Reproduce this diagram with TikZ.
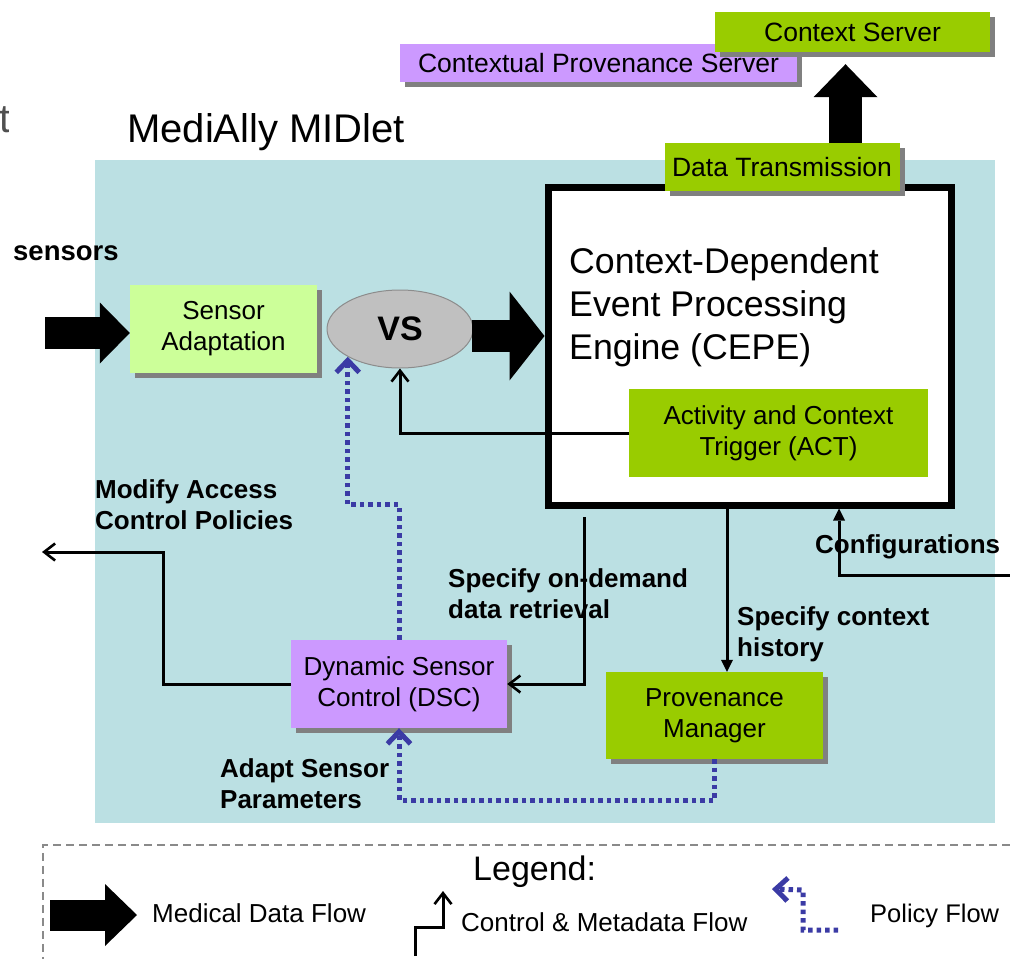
\documentclass[tikz,border=0pt]{standalone}
\usepackage{fontspec}
\setmainfont{Liberation Sans}
\usetikzlibrary{arrows.meta,shadows,calc,shapes.geometric}

\definecolor{bgcyan}{HTML}{BBE0E3}
\definecolor{dgreen}{HTML}{99CC00}
\definecolor{lgreen}{HTML}{CCFF99}
\definecolor{lilac}{HTML}{CC99FF}
\definecolor{shgray}{HTML}{808080}
\definecolor{vsgray}{HTML}{C0C0C0}
\definecolor{vsedge}{HTML}{8C8C8C}
\definecolor{polblue}{HTML}{3B3BA5}
\definecolor{legendgray}{HTML}{8A8A8A}
\definecolor{fraggray}{HTML}{505050}

\newcommand\setfs[2]{\fontsize{#1}{#2}\selectfont}

\tikzset{
  sh/.style={drop shadow={shadow xshift=5pt,shadow yshift=-5pt,fill=shgray,opacity=1}},
  boxbase/.style={inner sep=0pt, align=center, font=\setfs{26}{31}},
  gbox/.style={boxbase, fill=dgreen},
  lgbox/.style={boxbase, fill=lgreen},
  pbox/.style={boxbase, fill=lilac},
  lbl/.style={inner sep=0pt, align=left, font=\bfseries\setfs{26}{31}},
  plain/.style={inner sep=0pt, font=\setfs{26}{31}},
  ctl/.style={draw=black, line width=3pt},
  opentip/.style={-{Straight Barb[length=11pt,width=17pt,line width=2.6pt]}},
  filltip/.style={-{Triangle[length=12pt,width=12pt,line width=0pt]}},
  pol/.style={draw=polblue, line width=5pt, dash pattern=on 4.5pt off 4pt,
    -{Straight Barb[length=12pt,width=23pt,line width=5pt]}},
  bigflow/.style={draw=black, line width=#1},
}

\begin{document}
\begin{tikzpicture}[x=1pt,y=-1pt]
\useasboundingbox (0,0) rectangle (1010,959);

% clipped letter at the left margin
\begin{scope}
  \clip (0,90) rectangle (8,140);
  \node[anchor=base west, inner sep=0pt, font=\setfs{40}{48}, text=fraggray] (frag) at (-1,132) {t};
\end{scope}

% MIDlet area
\node[fill=bgcyan, minimum width=900pt, minimum height=663pt, inner sep=0pt, anchor=north west] (midlet) at (95,160) {};
\node[anchor=base west, inner sep=0pt, font=\setfs{40}{48}] (title) at (127,142) {MediAlly MIDlet};

% servers
\node[pbox, sh, minimum width=397pt, minimum height=38pt, font=\setfs{26.5}{32}] (CPS) at (598.5,63) {Contextual Provenance Server};
\node[gbox, sh, minimum width=275pt, minimum height=40pt, font=\setfs{26.5}{32}] (CS) at (852.5,32) {Context Server};

% event processing engine
\node[draw=black, line width=7pt, fill=white, minimum width=403pt, minimum height=318pt, inner sep=0pt] (CEPE) at (749.5,346) {};
\node[anchor=north west, inner sep=0pt, align=left, font=\setfs{35.7}{43}] (cepetxt) at (569,247) {Context-Dependent\\Event Processing\\Engine (CEPE)};

% upload to the context server
\node[gbox, sh, minimum width=235pt, minimum height=48pt, font=\setfs{26.5}{32}] (DT) at (782,167) {Data Transmission};
\coordinate (cstip) at ($(CS.south)+(-7,12)$);
\draw[bigflow=33pt, -{Triangle[length=33pt,width=64pt,line width=0pt]}] (DT.north -| cstip) -- (cstip);

\node[gbox, minimum width=299pt, minimum height=88pt] (ACT) at (778.5,433) {Activity and Context\\Trigger (ACT)};
\node[lgbox, sh, minimum width=187pt, minimum height=88pt] (SA) at (223.5,329) {Sensor\\Adaptation};
\node[ellipse, fill=vsgray, draw=vsedge, line width=1pt, minimum width=146pt, minimum height=78pt, inner sep=0pt, font=\bfseries\setfs{34}{40}] (VS) at (400,329) {VS};
\node[pbox, sh, minimum width=216pt, minimum height=88pt] (DSC) at (399,684) {Dynamic Sensor\\Control (DSC)};
\node[gbox, sh, minimum width=217pt, minimum height=87pt] (PM) at (714.5,715.5) {Provenance\\Manager};

% medical data flow
\coordinate (sens) at (45,333);
\draw[bigflow=32pt, -{Triangle[length=30pt,width=61pt,line width=0pt]}] (sens) -- (SA.west |- sens);
\coordinate (vsout) at ($(VS.east)+(-2,7)$);
\draw[bigflow=32pt, -{Triangle[length=35pt,width=89pt,line width=0pt]}] (vsout) -- (CEPE.west |- vsout);

% control and metadata flow
\draw[ctl, opentip] (ACT.west) -| (VS.south);
\coordinate (macp) at (42,552);
\draw[ctl, opentip] (DSC.west) -- ++(-127,0) |- (macp);
\coordinate (odtop) at (584,517);
\draw[ctl, opentip] (odtop) |- (DSC.east);
\coordinate (hist) at ($(PM.north)+(12.5,0)$);
\draw[ctl, filltip] (CEPE.south -| hist) -- (hist);
\coordinate (cfgin) at (1012,575);
\coordinate (cfgtip) at ($(CEPE.south)+(89.5,0)$);
\draw[ctl, filltip] (cfgin) -| (cfgtip);

% policy flow
\draw[pol] (DSC.north) -- ++(0,-135) -| (VS.208);
\draw[pol] (PM.south) -- ++(0,41) -| (DSC.south);

% labels
\node[lbl, anchor=base west, font=\bfseries\setfs{27.5}{32}] (lsens) at (13,260) {sensors};
\node[lbl, anchor=north west] (lmac) at (95,479) {Modify Access\\Control Policies};
\node[lbl, anchor=north west] (lod) at (448,568) {Specify on-demand\\data retrieval};
\node[lbl, anchor=north west] (lhist) at (737,606) {Specify context\\history};
\node[lbl, anchor=base west] (lcfg) at (815,553) {Configurations};
\node[lbl, anchor=north west] (lasp) at (220,758) {Adapt Sensor\\Parameters};

% legend
\node[draw=legendgray, line width=1.5pt, dash pattern=on 8pt off 5pt, minimum width=1000pt, minimum height=150pt, inner sep=0pt, anchor=north west] (legendbox) at (42,844) {};
\node[anchor=base west, inner sep=0pt, font=\setfs{34}{40}] (lgtitle) at (473,880) {Legend:};
\coordinate (lgA) at (50,915);
\coordinate (lgB) at (137,915);
\draw[bigflow=31pt, -{Triangle[length=32pt,width=62pt,line width=0pt]}] (lgA) -- (lgB);
\node[plain, anchor=base west] (lgmed) at (152,922) {Medical Data Flow};
\coordinate (lc0) at (415,956);
\coordinate (lc1) at (443,891);
\draw[ctl, opentip] (lc0) |- ($(lc1)+(0,36)$) -- (lc1);
\node[plain, anchor=base west] (lgctl) at (461,931) {Control \& Metadata Flow};
\coordinate (lp0) at (838,930);
\coordinate (lp1) at (772,889);
\draw[pol] (lp0) -- ++(-35,0) -- ++(0,-40) -- (lp1);
\node[plain, anchor=base west, font=\setfs{25.5}{31}] (lgpol) at (870,922) {Policy Flow};
\end{tikzpicture}
\end{document}
